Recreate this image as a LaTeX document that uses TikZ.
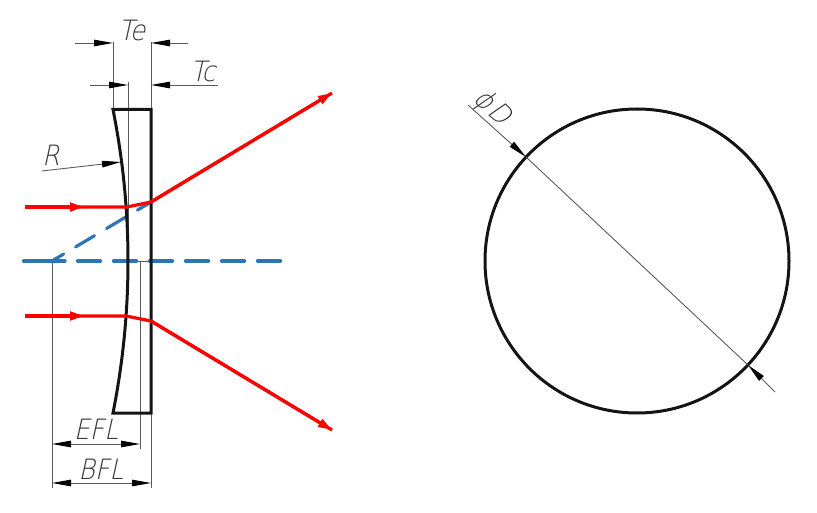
\documentclass[tikz,border=0pt]{standalone}
\usepackage{fontspec}
\setmainfont{DejaVu Sans}
\newfontfamily\cad[FakeSlant=0.22,FakeStretch=0.9]{DejaVu Sans ExtraLight}
\usetikzlibrary{arrows.meta}
\definecolor{rayred}{RGB}{255,0,0}
\definecolor{axisblue}{RGB}{46,117,182}
\definecolor{ink}{RGB}{20,20,20}
\tikzset{
  x=1pt,y=-1pt,
  outline/.style={draw=ink,line width=3pt,line join=miter},
  thin line/.style={draw=ink!70,line width=0.9pt},
  dimtip/.style={-{Triangle[length=19pt,width=6.5pt,color=black]}},
  dimboth/.style={{Triangle[length=19pt,width=6.5pt,color=black]}-{Triangle[length=19pt,width=6.5pt,color=black]}},
  ray/.style={draw=rayred,line width=3.2pt,line join=round},
  raytip/.style={draw=rayred,line width=3.2pt,-{Triangle[length=14pt,width=8.5pt,color=rayred]}},
  axis line/.style={draw=axisblue,line width=3.2pt,line cap=round,dash pattern=on 23pt off 13pt},
  cadtext/.style={font=\cad\fontsize{28}{28}\selectfont,text=ink!85,inner sep=0pt},
}
\begin{document}
\begin{tikzpicture}
\useasboundingbox (0,0) rectangle (817,513);
% key points
\coordinate (lensTL) at (113,109.5);
\coordinate (lensTR) at (151,109.5);
\coordinate (lensBL) at (113,413);
\coordinate (lensBR) at (151,413);
\coordinate (focus) at (52,261);
\coordinate (apex) at (128,261);
\coordinate (effP) at (140,261);
\coordinate (backP) at (151,261);
\coordinate (upExit) at (151,202);
\coordinate (lowExit) at (151,321);
\coordinate (upHit) at (127,207);
\coordinate (lowHit) at (126,316);
% thin extension lines
\draw[thin line] (lensTL) -- (113,42);
\draw[thin line] (lensTR) -- (151,42);
\draw[thin line] (128,82) -- (apex) -- (backP);
\draw[thin line] (focus) -- (52,488);
\draw[thin line] (effP) -- (140,449);
\draw[thin line] (lensBR) -- (151,488);
% dimensions
\coordinate (TeL) at (75,43); \coordinate (TeA) at (113,43);
\coordinate (TeB) at (151,43); \coordinate (TeR) at (188,43);
\draw[thin line,dimtip] (TeL) -- (TeA);
\draw[thin line,dimtip] (TeR) -- (TeB);
\coordinate (TcL) at (90,85); \coordinate (TcA) at (128,85);
\coordinate (TcB) at (151,85); \coordinate (TcR) at (218,85);
\draw[thin line,dimtip] (TcL) -- (TcA);
\draw[thin line,dimtip] (TcR) -- (TcB);
\coordinate (EflA) at (52,444); \coordinate (EflB) at (140,444);
\coordinate (BflA) at (52,483); \coordinate (BflB) at (151,483);
\draw[thin line,dimboth] (EflA) -- (EflB);
\draw[thin line,dimboth] (BflA) -- (BflB);
\coordinate (Rtail) at (42,171); \coordinate (Rtip) at (121,162);
\draw[thin line,dimtip] (Rtail) -- (Rtip);
% axis and virtual ray
\coordinate (axisStart) at (23.5,261); \coordinate (axisFirst) at (65,261);
\coordinate (axisNext) at (77.5,261); \coordinate (axisEnd) at (281,261);
\draw[draw=axisblue,line width=3.2pt,line cap=round] (axisStart) -- (axisFirst);
\draw[axis line] (axisNext) -- (axisEnd);
\draw[axis line,dash pattern=on 22pt off 14pt,dash phase=8.5pt] (focus) -- (upExit);
% lens
\draw[outline] (lensTL) .. controls (133,210) and (133,312) .. (lensBL) -- (lensBR) -- (lensTR) -- cycle;
% rays
\coordinate (upStart) at (25,207); \coordinate (upMark) at (84,207);
\coordinate (lowStart) at (25,316); \coordinate (lowMark) at (84,316);
\coordinate (upEnd) at (332,93); \coordinate (lowEnd) at (332,430);
\draw[ray] (upStart) -- (upHit) -- (upExit) -- (upEnd);
\draw[ray] (lowStart) -- (lowHit) -- (lowExit) -- (lowEnd);
\draw[raytip] (upStart) -- (upMark);
\draw[raytip] (lowStart) -- (lowMark);
\draw[raytip] (upExit) -- (upEnd);
\draw[raytip] (lowExit) -- (lowEnd);
% labels
\node[cadtext] (Te) at (132,30) {Te};
\node[cadtext] (Tc) at (203,71) {Tc};
\node[cadtext] (Rl) at (51,155) {R};
\node[cadtext] (Efl) at (96,429) {EFL};
\node[cadtext] (Bfl) at (101,469) {BFL};
% right view
\node[draw=ink,line width=3pt,circle,minimum size=304pt,inner sep=0pt] (disc) at (637,261) {};
\coordinate (dStart) at (468,105); \coordinate (dEnd) at (775,392);
\coordinate (dTipA) at (526,157); \coordinate (dTipB) at (748,365);
\draw[thin line,dimtip] (dStart) -- (dTipA);
\draw[thin line,dimtip] (dEnd) -- (dTipB);
\draw[thin line] (dTipA) -- (dTipB);
\node[cadtext,rotate=-43] (phiD) at (492,108) {ϕ\kern2ptD};
\end{tikzpicture}
\end{document}
